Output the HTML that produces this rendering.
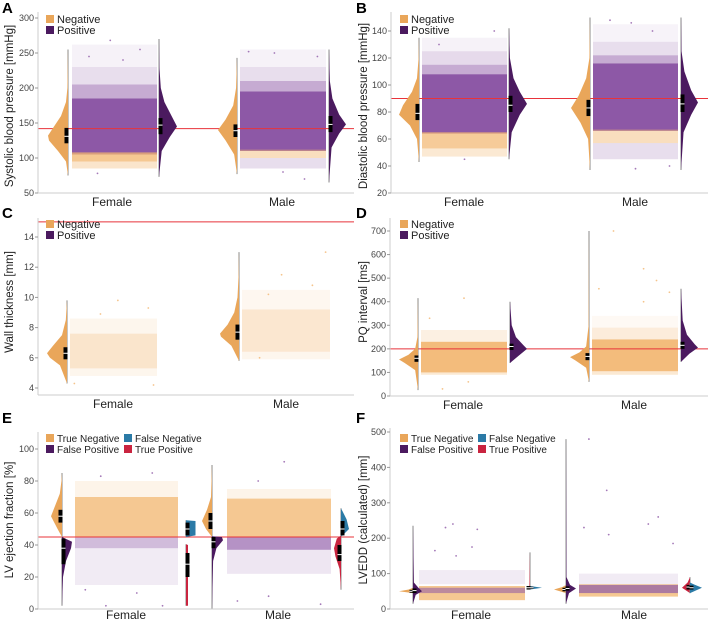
<!DOCTYPE html>
<html><head><meta charset="utf-8"><style>
body{margin:0;background:#fff}
svg{display:block;font-family:"Liberation Sans",sans-serif}
</style></head><body>
<svg id="chart" width="708" height="621" viewBox="0 0 708 621" xmlns="http://www.w3.org/2000/svg"></svg>
<script>
const OR="#E9A65A",ORs="#F2B56E",PU="#4B1A5F",PUs="#8D58A6",BL="#2B7AA6",RD="#C9243F";
const sexLabels=["Female","Male"];
const A_ticks=[50,100,150,200,250,300];
const B_ticks=[20,40,60,80,100,120,140];
const C_ticks=[4,6,8,10,12,14];
const D_ticks=[0,100,200,300,400,500,600,700];
const E_ticks=[0,20,40,60,80,100];
const F_ticks=[0,100,200,300,400,500];
const A_thr=142,B_thr=90,C_thr=15,D_thr=200,E_thr=45,F_thr=null;
const A_fn=[[75,0],[95,.1],[110,.5],[125,.95],[132,1],[145,.7],[160,.35],[180,.1],[200,.03],[255,0]];
const A_fp=[[73,0],[110,.15],[130,.6],[145,1],[160,.7],[180,.3],[200,.1],[230,.02],[270,0]];
const A_mn=[[77,0],[105,.15],[125,.6],[140,1],[155,.6],[175,.2],[200,.05],[243,0]];
const A_mp=[[65,0],[115,.15],[135,.6],[148,1],[162,.6],[185,.2],[210,.05],[255,0]];
const B_fn=[[43,0],[60,.1],[70,.45],[78,1],[85,.8],[95,.35],[105,.1],[120,.02],[135,0]];
const B_fp=[[45,0],[65,.15],[78,.6],[86,1],[95,.6],[105,.25],[120,.05],[142,0]];
const B_mn=[[37,0],[60,.1],[72,.5],[83,1],[92,.6],[105,.2],[120,.03],[150,0]];
const B_mp=[[37,0],[65,.15],[78,.6],[87,1],[96,.6],[110,.2],[125,.03],[150,0]];
const C_fn=[[4.3,0],[5.5,.35],[6,.85],[6.3,1],[6.8,.7],[7.5,.25],[8.5,.06],[9.8,0]];
const C_mn=[[5.8,0],[6.8,.4],[7.4,.95],[7.6,1],[8.2,.6],[9,.25],[10,.08],[11.5,.02],[13,0]];
const D_fn=[[25,0],[110,.15],[140,.7],[155,1],[175,.5],[200,.15],[250,.03],[415,0]];
const D_fp=[[140,0],[170,.5],[200,1],[215,.8],[250,.35],[300,.1],[400,0]];
const D_mn=[[60,0],[120,.15],[150,.7],[165,1],[185,.5],[210,.15],[300,.02],[700,0]];
const D_mp=[[145,0],[180,.5],[205,1],[220,.8],[260,.35],[320,.1],[455,0]];
const E_ftn=[[45,0],[50,.4],[58,1],[65,.6],[72,.2],[80,.05],[85,0]];
const E_ffp=[[2,0],[20,.1],[30,.4],[38,.9],[42,1],[45,0]];
const E_ffn=[[45,0],[46,.95],[55,.95],[55.5,0]];
const E_ftp=[[2,.5],[40,.5],[40.5,0]];
const E_mtn=[[45,0],[50,.6],[55,1],[62,.5],[70,.1],[90,0]];
const E_mfp=[[0,0],[30,.1],[38,.4],[43,1],[45,.9],[45.5,0]];
const E_mfn=[[45,0],[50,1],[56,.7],[60,.3],[63,0]];
const E_mtp=[[12,0],[25,.2],[33,.8],[38,1],[44,.6],[46,0]];
const F_ftn=[[45,0],[50,1],[55,.3],[60,0]];
const F_ffp=[[15,0],[40,.3],[50,1],[60,.6],[75,.1],[235,0]];
const F_ffn=[[55,0],[60,1],[65,0]];
const F_ftp=[[55,0],[60,.3],[160,0]];
const F_mtn=[[45,0],[55,1],[62,.3],[68,0]];
const F_mfp=[[15,0],[45,.3],[58,1],[68,.4],[90,.05],[480,0]];
const F_mtp=[[45,0],[60,1],[75,.3],[90,0]];
const F_mfn=[[45,0],[60,1],[70,.3],[75,0]];
const boxA=[[121,131,143],[134,147,157],[130,139,148],[137,148,160]];
const boxB=[[74,79,86],[80,85,92],[77,83,89],[80,86,93]];
const boxC=[[5.9,6.3,6.7],[7.2,7.7,8.2]];
const boxD=[[145,160,172],[195,210,222],[152,168,182],[200,215,230]];
const boxE=[[54,58,62],[28,38,44],[46,50,54],[20,28,35],[50,55,60],[38,42,45],[46,50,55],[30,34,40]];
const boxF=[[46,50,54],[45,52,58],[57,60,63],[55,60,65],[50,55,60],[52,58,64],[55,62,68],[55,60,66]];
const A_fc=[[230,262,"p",.08],[205,230,"p",.2],[185,205,"p",.5],[105,185,"p",1],[95,108,"o",.75],[85,95,"o",.35]];
const A_mc=[[230,255,"p",.08],[210,230,"p",.2],[195,210,"p",.5],[110,195,"p",1],[100,112,"o",.45],[85,100,"p",.2]];
const B_fc=[[125,135,"p",.08],[115,125,"p",.22],[108,115,"p",.5],[64,108,"p",1],[53,65,"o",.7],[47,53,"o",.3]];
const B_mc=[[132,145,"p",.07],[122,132,"p",.2],[116,122,"p",.5],[66,116,"p",1],[57,67,"o",.45],[45,57,"p",.2]];
const C_fc=[[5.3,7.6,"o",.35],[7.6,8.6,"o",.12],[4.8,5.3,"o",.12]];
const C_mc=[[6.4,9.2,"o",.32],[9.2,10.5,"o",.1],[5.9,6.4,"o",.12]];
const D_fc=[[230,280,"o",.2],[100,230,"o",.9],[90,100,"o",.3]];
const D_mc=[[290,340,"o",.08],[240,290,"o",.25],[105,240,"o",.9],[90,105,"o",.3]];
const E_fc=[[70,80,"o",.15],[45,70,"o",.75],[38,45,"p",.4],[15,38,"p",.12]];
const E_mc=[[69,75,"o",.15],[45,69,"o",.75],[37,45,"p",.65],[22,37,"p",.15]];
const F_fc=[[25,65,"o",.75],[45,60,"p",.55],[70,110,"p",.12]];
const F_mc=[[35,70,"o",.75],[45,68,"p",.7],[70,100,"p",.12]];
const A_out=[[268,.45],[245,.2],[255,.8],[78,.3],[240,.6]];
const A_mout=[[252,.1],[250,.4],[245,.9],[70,.75],[80,.5]];
const B_out=[[140,.85],[130,.2],[45,.5]];
const B_mout=[[148,.2],[146,.45],[140,.7],[38,.5],[40,.9]];
const C_out=[[9.8,.55],[9.3,.9],[4.3,.05],[4.2,.96],[8.9,.35]];
const C_mout=[[13,.95],[11.5,.45],[10.8,.8],[10.2,.3],[6,.2]];
const D_out=[[415,.5],[330,.1],[60,.55],[30,.25]];
const D_mout=[[700,.25],[540,.6],[490,.75],[455,.08],[440,.9],[400,.6]];
const E_out=[[85,.75],[83,.25],[2,.3],[2,.85],[10,.6],[12,.1]];
const E_mout=[[92,.55],[80,.3],[3,.9],[5,.1],[8,.4]];
const F_out=[[240,.32],[230,.25],[225,.55],[175,.5],[165,.15],[150,.35]];
const F_mout=[[480,.1],[335,.28],[260,.8],[240,.7],[230,.05],[210,.3],[185,.95]];

const svg=document.getElementById('chart');const NS="http://www.w3.org/2000/svg";
function mk(t,a,p){const e=document.createElementNS(NS,t);for(const k in a)e.setAttribute(k,a[k]);(p||svg).appendChild(e);return e;}
function col(k){return k==="p"?PUs:ORs;}

function panel(P){
  const g=mk('g',{});
  
  
  const y=v=>P.p0+(v-P.v0)*(P.p1-P.p0)/(P.v1-P.v0);
  P.groups.forEach((G,gi)=>{
    G.clouds.forEach(c=>{
      c.bands.forEach(b=>{
        const r=mk('rect',{x:c.x0,y:y(b[1]),width:c.x1-c.x0,height:y(b[0])-y(b[1]),fill:col(b[2]),opacity:b[3]},g);
        
        
      });
      c.out.forEach(o=>{
        const d=mk('circle',{cx:c.x0+o[1]*(c.x1-c.x0),cy:y(o[0]),r:.9,fill:P.outCol||PUs,opacity:.8},g);
        
        
      });
    });
  });
  if(P.thr!=null){const l=mk('line',{x1:P.ax,x2:P.right,y1:y(P.thr),y2:y(P.thr),stroke:"#E8333A","stroke-width":1},g);
    }
  P.groups.forEach(G=>G.violins.forEach(V=>{
    const top=V.pts[V.pts.length-1][0],bot=V.pts[0][0];
    const st=mk('line',{x1:V.stem,x2:V.stem,y1:y(top),y2:y(bot),stroke:"#8a8a8a","stroke-width":1},g);
    
    let d="M"+V.stem+","+y(bot);
    V.pts.forEach(p=>{d+=" L"+(V.stem+V.side*p[1]*V.w)+","+y(p[0]);});
    d+=" L"+V.stem+","+y(top)+"Z";
    const vp=mk('path',{d:d,fill:V.color},g);
    
    const b=V.box;
    const br=mk('rect',{x:V.stem+V.side*1.5-2,y:y(b[2]),width:4,height:y(b[0])-y(b[2]),fill:"#000"},g);
    
    const md=mk('line',{x1:V.stem+V.side*1.5-2,x2:V.stem+V.side*1.5+2,y1:y(b[1]),y2:y(b[1]),stroke:"#fff","stroke-width":1},g);
    
  }));
  const ya=mk('line',{x1:P.ax,x2:P.ax,y1:P.axTop,y2:P.base,stroke:"#ccc","stroke-width":1},g);
  
  const xa=mk('line',{x1:P.ax,x2:P.right,y1:P.base,y2:P.base,stroke:"#ccc","stroke-width":1},g);
  
  P.ticks.forEach(t=>{
    const tl=mk('line',{x1:P.ax-3,x2:P.ax,y1:y(t),y2:y(t),stroke:"#999"},g);
    
    const tx=mk('text',{x:P.ax-4,y:y(t)+3,"font-size":9,fill:"#444","text-anchor":"end"},g);
    tx.textContent=t;
  });
  const tt=mk('text',{transform:`translate(${P.ox+13},${P.titleY}) rotate(-90)`,"font-size":11.5,fill:"#222","text-anchor":"middle"},g);
  tt.textContent=P.title;
  P.xl.forEach((x,i)=>{const t=mk('text',{x:x,y:Math.min(P.base+13,619),"font-size":12,fill:"#222","text-anchor":"middle"},g);
    t.textContent=sexLabels[i];});
  const L=mk('text',{x:P.ox+2,y:P.oy+13,"font-size":15,"font-weight":"bold",fill:"#000"},g);
  L.textContent=P.letter;
  P.legend.forEach(e=>{
    const s=mk('rect',{x:e[0],y:e[1]-8,width:8,height:8,fill:e[3]},g);
    
    const t=mk('text',{x:e[0]+11,y:e[1],"font-size":e[4]||11,fill:"#222"},g);
    t.textContent=e[2];
  });
}
function leg2(ox,oy){return [[ox+46,oy+23,"Negative",OR],[ox+46,oy+34,"Positive",PU]];}
function leg4(ox,oy){return [[ox+46,oy+32,"True Negative",OR,10],[ox+46,oy+43,"False Positive",PU,10],[ox+124,oy+32,"False Negative",BL,10],[ox+124,oy+43,"True Positive",RD,10]];}
function V(stem,side,w,color,pts,box,name){return {stem,side,w,color,pts,box,name};}

panel({letter:"A",ox:0,oy:0,ax:38,right:354,base:193,axTop:12,v0:300,p0:18,v1:50,p1:193,thr:A_thr,ticks:A_ticks,title:"Systolic blood pressure [mmHg]",titleY:106,xl:[112,282],legend:leg2(0,0),
 groups:[{violins:[V(68,-1,20,OR,A_fn,boxA[0],"female-negative"),V(159,1,18,PU,A_fp,boxA[1],"female-positive")],clouds:[{x0:72,x1:157,bands:A_fc,out:A_out}]},
 {violins:[V(237,-1,19,OR,A_mn,boxA[2],"male-negative"),V(329,1,17,PU,A_mp,boxA[3],"male-positive")],clouds:[{x0:240,x1:326,bands:A_mc,out:A_mout}]}]});
panel({letter:"B",ox:354,oy:0,ax:391,right:708,base:193,axTop:12,v0:140,p0:31,v1:20,p1:193,thr:B_thr,ticks:B_ticks,title:"Diastolic blood pressure [mmHg]",titleY:106,xl:[464,635],legend:leg2(354,0),
 groups:[{violins:[V(419,-1,20,OR,B_fn,boxB[0],"female-negative"),V(509,1,18,PU,B_fp,boxB[1],"female-positive")],clouds:[{x0:422,x1:507,bands:B_fc,out:B_out}]},
 {violins:[V(590,-1,19,OR,B_mn,boxB[2],"male-negative"),V(681,1,17,PU,B_mp,boxB[3],"male-positive")],clouds:[{x0:593,x1:678,bands:B_mc,out:B_mout}]}]});
panel({letter:"C",ox:0,oy:205,ax:38,right:354,base:395,axTop:218,v0:14,p0:237,v1:4,p1:388,thr:C_thr,ticks:C_ticks,title:"Wall thickness [mm]",titleY:302,xl:[113,286],legend:leg2(0,205),outCol:ORs,
 groups:[{violins:[V(67,-1,20,OR,C_fn,boxC[0],"female-negative")],clouds:[{x0:70,x1:157,bands:C_fc,out:C_out}]},
 {violins:[V(239,-1,19,OR,C_mn,boxC[1],"male-negative")],clouds:[{x0:242,x1:330,bands:C_mc,out:C_mout}]}]});
panel({letter:"D",ox:354,oy:205,ax:390,right:708,base:396,axTop:218,v0:700,p0:231,v1:0,p1:396,thr:D_thr,ticks:D_ticks,title:"PQ interval [ms]",titleY:302,xl:[463,634],legend:leg2(354,205),outCol:ORs,
 groups:[{violins:[V(418,-1,19,OR,D_fn,boxD[0],"female-negative"),V(510,1,17,PU,D_fp,boxD[1],"female-positive")],clouds:[{x0:421,x1:507,bands:D_fc,out:D_out}]},
 {violins:[V(589,-1,19,OR,D_mn,boxD[2],"male-negative"),V(681,1,17,PU,D_mp,boxD[3],"male-positive")],clouds:[{x0:592,x1:678,bands:D_mc,out:D_mout}]}]});
panel({letter:"E",ox:0,oy:410,ax:38,right:354,base:609,axTop:432,v0:100,p0:449,v1:0,p1:609,thr:E_thr,ticks:E_ticks,title:"LV ejection fraction [%]",titleY:520,xl:[126,278],legend:leg4(0,410),
 groups:[{violins:[V(62,-1,11,OR,E_ftn,boxE[0],"female-true-negative"),V(62,1,10,PU,E_ffp,boxE[1],"female-false-positive"),V(186,1,10,BL,E_ffn,boxE[2],"female-false-negative"),V(186,1,4,RD,E_ftp,boxE[3],"female-true-positive")],clouds:[{x0:75,x1:178,bands:E_fc,out:E_out}]},
 {violins:[V(212,-1,10,OR,E_mtn,boxE[4],"male-true-negative"),V(212,1,11,PU,E_mfp,boxE[5],"male-false-positive"),V(341,1,8,BL,E_mfn,boxE[6],"male-false-negative"),V(341,-1,7,RD,E_mtp,boxE[7],"male-true-positive")],clouds:[{x0:227,x1:331,bands:E_mc,out:E_mout}]}]});
panel({letter:"F",ox:354,oy:410,ax:390,right:708,base:609,axTop:428,v0:500,p0:432,v1:0,p1:609,thr:F_thr,ticks:F_ticks,title:"LVEDD (calculated) [mm]",titleY:520,xl:[471,634],legend:leg4(354,410),
 groups:[{violins:[V(413,-1,14,OR,F_ftn,boxF[0],"female-true-negative"),V(413,1,9,PU,F_ffp,boxF[1],"female-false-positive"),V(530,1,12,BL,F_ffn,boxF[2],"female-false-negative"),V(530,-1,2,RD,F_ftp,boxF[3],"female-true-positive")],clouds:[{x0:419,x1:525,bands:F_fc,out:F_out}]},
 {violins:[V(566,-1,12,OR,F_mtn,boxF[4],"male-true-negative"),V(566,1,10,PU,F_mfp,boxF[5],"male-false-positive"),V(690,-1,8,RD,F_mtp,boxF[6],"male-true-positive"),V(690,1,12,BL,F_mfn,boxF[7],"male-false-negative")],clouds:[{x0:579,x1:678,bands:F_mc,out:F_mout}]}]});
</script>
</body></html>
